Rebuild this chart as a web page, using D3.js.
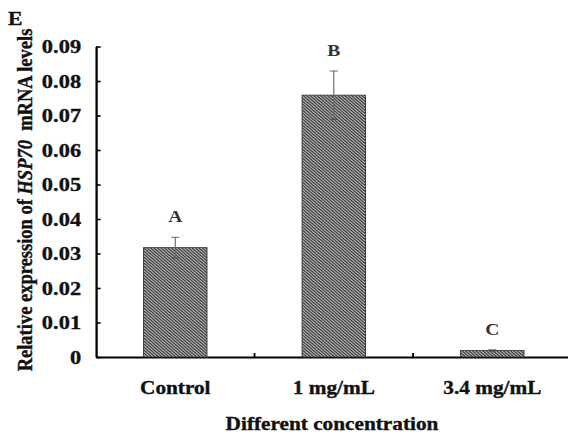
<!DOCTYPE html>
<html>
<head>
<meta charset="utf-8">
<script src="https://cdn.jsdelivr.net/npm/d3@7"></script>
<style>
  body { margin: 0; background: #fff; }
  text { font-family: "Liberation Serif", "Times New Roman", serif; font-weight: bold; stroke: #111; stroke-width: 0.35px; }
</style>
</head>
<body>
<div id="container"></div>
<script>
/* DATA */
const categories = ["Control", "1 mg/mL", "3.4 mg/mL"];
const means = [0.0317, 0.0759, 0.0019];
const errors = [0.0030, 0.0070, 0.0002];
const groupLetters = ["A", "B", "C"];
const yTicks = [0, 0.01, 0.02, 0.03, 0.04, 0.05, 0.06, 0.07, 0.08, 0.09];

/* CONSTANTS */
// the source figure is stretched sideways, so draw in a narrower box and stretch it
const stretch = 1.15,
  outW = 568, height = 434,
  width = outW / stretch;

const svg = d3.select("#container").append("svg")
  .attr("width", outW)
  .attr("height", height)
  .attr("viewBox", `0 0 ${width} ${height}`)
  .attr("preserveAspectRatio", "none")
  .style("display", "block");

// hatch pattern for the bars
const defs = svg.append("defs");
const pat = defs.append("pattern")
  .attr("id", "hatch")
  .attr("patternUnits", "userSpaceOnUse")
  .attr("width", 3)
  .attr("height", 3);
pat.append("rect").attr("width", 3).attr("height", 3).attr("fill", "#c4c4c4");
pat.append("path")
  .attr("d", "M-1,-1 L4,4 M-1,2 L1,4 M2,-1 L4,1")
  .attr("stroke", "#2e2e2e")
  .attr("stroke-width", 1.1);

/* SCALES */
const x = d3.scaleBand()
  .domain(categories)
  .range([83.5, 497])
  .paddingInner(0.6)
  .paddingOuter(0.3);

const y = d3.scaleLinear()
  .domain([0, 0.09])
  .range([357, 46.5]);

/* AXES */
const yAxis = d3.axisLeft(y)
  .tickValues(yTicks)
  .tickSizeInner(-4)
  .tickSizeOuter(0)
  .tickPadding(13)
  .tickFormat(d => d === 0 ? "0" : d.toFixed(2));

const gy = svg.append("g")
  .attr("transform", `translate(${x.range()[0]},0)`)
  .call(yAxis);
gy.select(".domain").attr("stroke", "#000").attr("stroke-width", 2);
gy.selectAll(".tick line").attr("stroke", "#000").attr("stroke-width", 1.6);
gy.selectAll(".tick text")
  .attr("font-size", 19.5)
  .attr("font-family", "Liberation Serif")
  .attr("font-weight", "bold")
  .attr("fill", "#111");

const xAxis = d3.axisBottom(x)
  .tickSize(0)
  .tickPadding(24);

const gx = svg.append("g")
  .attr("transform", `translate(0,${y(0)})`)
  .call(xAxis);
gx.select(".domain").attr("stroke", "#000").attr("stroke-width", 2);
gx.selectAll(".tick text")
  .attr("font-size", 18.5)
  .attr("font-family", "Liberation Serif")
  .attr("font-weight", "bold")
  .attr("fill", "#111");

// boundary ticks between categories, pointing up
const gap = x.step() - x.bandwidth();
svg.selectAll("line.sep")
  .data(categories.slice(1).concat(["end"]))
  .join("line")
  .attr("class", "sep")
  .attr("x1", d => d === "end" ? x.range()[1] : x(d) - gap / 2)
  .attr("x2", d => d === "end" ? x.range()[1] : x(d) - gap / 2)
  .attr("y1", y(0))
  .attr("y2", y(0) - 4)
  .attr("stroke", "#000")
  .attr("stroke-width", 1.6);

/* BARS */
svg.selectAll("rect.bar")
  .data(means)
  .join("rect")
  .attr("class", "bar")
  .attr("x", (d, i) => x(categories[i]))
  .attr("width", x.bandwidth())
  .attr("y", d => y(d))
  .attr("height", d => y(0) - y(d))
  .attr("fill", "url(#hatch)")
  .attr("stroke", "#333")
  .attr("stroke-width", 0.8);

/* ERROR BARS */
const eb = svg.selectAll("g.err")
  .data(means)
  .join("g")
  .attr("class", "err")
  .attr("stroke", "#6a6a6a")
  .attr("stroke-width", 1);
eb.append("line")
  .attr("x1", (d, i) => x(categories[i]) + x.bandwidth() / 2)
  .attr("x2", (d, i) => x(categories[i]) + x.bandwidth() / 2)
  .attr("y1", (d, i) => y(d + errors[i]))
  .attr("y2", (d, i) => y(d - errors[i]));
eb.append("line")
  .attr("x1", (d, i) => x(categories[i]) + x.bandwidth() / 2 - 3.5)
  .attr("x2", (d, i) => x(categories[i]) + x.bandwidth() / 2 + 3.5)
  .attr("y1", (d, i) => y(d + errors[i]))
  .attr("y2", (d, i) => y(d + errors[i]));
eb.append("line")
  .attr("x1", (d, i) => x(categories[i]) + x.bandwidth() / 2 - 3)
  .attr("x2", (d, i) => x(categories[i]) + x.bandwidth() / 2 + 3)
  .attr("y1", (d, i) => y(d - errors[i]))
  .attr("y2", (d, i) => y(d - errors[i]))
  .attr("stroke", "#444");

/* GROUP LETTERS */
svg.selectAll("text.grp")
  .data(groupLetters)
  .join("text")
  .attr("class", "grp")
  .attr("x", (d, i) => x(categories[i]) + x.bandwidth() / 2)
  .attr("y", (d, i) => y(means[i] + errors[i]) - 15)
  .attr("text-anchor", "middle")
  .attr("font-size", 17)
  .attr("fill", "#333")
  .style("stroke", "none")
  .text(d => d);

/* TITLES */
svg.append("text")
  .attr("x", (x.range()[0] + width) / 2)
  .attr("y", 430)
  .attr("text-anchor", "middle")
  .attr("font-size", 18.5)
  .attr("fill", "#111")
  .text("Different concentration");

const yt = svg.append("text")
  .attr("transform", `translate(28,${200}) rotate(-90)`)
  .attr("text-anchor", "middle")
  .attr("font-size", 18.5)
  .attr("fill", "#111");
yt.append("tspan").text("Relative expression of ");
yt.append("tspan").attr("font-style", "italic").text("HSP70");
yt.append("tspan").attr("xml:space", "preserve").text("\u00a0 mRNA levels");

// panel letter
svg.append("text")
  .attr("x", 7)
  .attr("y", 25)
  .attr("font-size", 19)
  .attr("fill", "#111")
  .text("E");
</script>
</body>
</html>
